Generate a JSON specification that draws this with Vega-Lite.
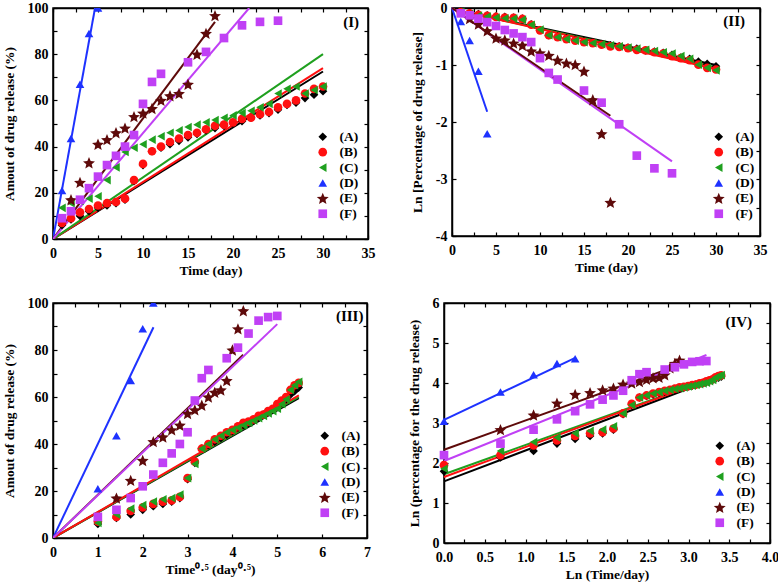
{
"$schema": "https://vega.github.io/schema/vega-lite/v6.json",
"padding": {"left": 1, "top": 0, "right": 0, "bottom": 0},
"background": "white",
"config": {
  "font": "Liberation Serif",
  "locale": {"number": {"decimal": ".", "thousands": ",", "grouping": [3], "currency": ["$", ""], "minus": "-"}},
  "view": {"stroke": "black", "strokeWidth": 1.5},
  "axis": {"labelFont": "Liberation Serif", "labelFontWeight": "bold", "labelFontSize": 14, "labelColor": "black",
    "titleFont": "Liberation Serif", "titleFontWeight": "bold", "titleFontSize": 13.5, "titleColor": "black",
    "grid": false, "domainColor": "black", "domainWidth": 1.5, "tickColor": "black", "tickSize": -4, "tickWidth": 1.2,
    "labelFlush": false, "labelOverlap": false},
  "axisX": {"labelPadding": 11, "titlePadding": 3},
  "axisY": {"labelPadding": 9, "titlePadding": 11},
  "legend": {"orient": "none", "labelFont": "Liberation Serif", "labelFontWeight": "bold", "labelFontSize": 13.5, "labelColor": "black",
    "labelOffset": 10, "rowPadding": 0.4, "symbolSize": 75, "symbolStrokeWidth": 0, "padding": 0}
},
"datasets": {
"pts": [
{"s":"A","t":1,"p1":6,"lr":-0.062,"rt":1,"p":6,"lt":0,"lp":1.792},
{"s":"A","t":2,"p1":8.5,"lr":-0.089,"rt":1.414,"p":8.5,"lt":0.693,"lp":2.140},
{"s":"A","t":3,"p1":10,"lr":-0.105,"rt":1.732,"p":10,"lt":1.099,"lp":2.303},
{"s":"A","t":4,"p1":12,"lr":-0.128,"rt":2,"p":12,"lt":1.386,"lp":2.485},
{"s":"A","t":5,"p1":13.5,"lr":-0.145,"rt":2.236,"p":13.5,"lt":1.609,"lp":2.603},
{"s":"A","t":6,"p1":14.5,"lr":-0.157,"rt":2.449,"p":14.5,"lt":1.792,"lp":2.674},
{"s":"A","t":7,"p1":15.5,"lr":-0.168,"rt":2.646,"p":15.5,"lt":1.946,"lp":2.741},
{"s":"A","t":8,"p1":17,"lr":-0.186,"rt":2.828,"p":17,"lt":2.079,"lp":2.833},
{"s":"A","t":9,"p1":25,"lr":-0.288,"rt":3,"p":25,"lt":2.197,"lp":3.219},
{"s":"A","t":10,"p1":32,"lr":-0.386,"rt":3.162,"p":32,"lt":2.303,"lp":3.466},
{"s":"A","t":11,"p1":38,"lr":-0.478,"rt":3.317,"p":38,"lt":2.398,"lp":3.638},
{"s":"A","t":12,"p1":39.5,"lr":-0.503,"rt":3.464,"p":39.5,"lt":2.485,"lp":3.676},
{"s":"A","t":13,"p1":41,"lr":-0.528,"rt":3.606,"p":41,"lt":2.565,"lp":3.714},
{"s":"A","t":14,"p1":42.5,"lr":-0.553,"rt":3.742,"p":42.5,"lt":2.639,"lp":3.750},
{"s":"A","t":15,"p1":44,"lr":-0.580,"rt":3.873,"p":44,"lt":2.708,"lp":3.784},
{"s":"A","t":16,"p1":45.5,"lr":-0.607,"rt":4,"p":45.5,"lt":2.773,"lp":3.818},
{"s":"A","t":17,"p1":47,"lr":-0.635,"rt":4.123,"p":47,"lt":2.833,"lp":3.850},
{"s":"A","t":18,"p1":48,"lr":-0.654,"rt":4.243,"p":48,"lt":2.890,"lp":3.871},
{"s":"A","t":19,"p1":49,"lr":-0.673,"rt":4.359,"p":49,"lt":2.944,"lp":3.892},
{"s":"A","t":20,"p1":50,"lr":-0.693,"rt":4.472,"p":50,"lt":2.996,"lp":3.912},
{"s":"A","t":21,"p1":51,"lr":-0.713,"rt":4.583,"p":51,"lt":3.045,"lp":3.932},
{"s":"A","t":22,"p1":52.5,"lr":-0.744,"rt":4.690,"p":52.5,"lt":3.091,"lp":3.961},
{"s":"A","t":23,"p1":53.5,"lr":-0.766,"rt":4.796,"p":53.5,"lt":3.135,"lp":3.980},
{"s":"A","t":24,"p1":54.5,"lr":-0.788,"rt":4.899,"p":54.5,"lt":3.178,"lp":3.998},
{"s":"A","t":25,"p1":56,"lr":-0.821,"rt":5,"p":56,"lt":3.219,"lp":4.025},
{"s":"A","t":26,"p1":58,"lr":-0.868,"rt":5.099,"p":58,"lt":3.258,"lp":4.060},
{"s":"A","t":27,"p1":59,"lr":-0.892,"rt":5.196,"p":59,"lt":3.296,"lp":4.078},
{"s":"A","t":28,"p1":61,"lr":-0.942,"rt":5.292,"p":61,"lt":3.332,"lp":4.111},
{"s":"A","t":29,"p1":62.5,"lr":-0.981,"rt":5.385,"p":62.5,"lt":3.367,"lp":4.135},
{"s":"A","t":30,"p1":64,"lr":-1.022,"rt":5.477,"p":64,"lt":3.401,"lp":4.159},
{"s":"B","t":1,"p1":7,"lr":-0.073,"rt":1,"p":7,"lt":0,"lp":1.946},
{"s":"B","t":2,"p1":9,"lr":-0.094,"rt":1.414,"p":9,"lt":0.693,"lp":2.197},
{"s":"B","t":3,"p1":11.5,"lr":-0.122,"rt":1.732,"p":11.5,"lt":1.099,"lp":2.442},
{"s":"B","t":4,"p1":13,"lr":-0.139,"rt":2,"p":13,"lt":1.386,"lp":2.565},
{"s":"B","t":5,"p1":14.5,"lr":-0.157,"rt":2.236,"p":14.5,"lt":1.609,"lp":2.674},
{"s":"B","t":6,"p1":15.5,"lr":-0.168,"rt":2.449,"p":15.5,"lt":1.792,"lp":2.741},
{"s":"B","t":7,"p1":16,"lr":-0.174,"rt":2.646,"p":16,"lt":1.946,"lp":2.773},
{"s":"B","t":8,"p1":17.5,"lr":-0.192,"rt":2.828,"p":17.5,"lt":2.079,"lp":2.862},
{"s":"B","t":9,"p1":25.5,"lr":-0.294,"rt":3,"p":25.5,"lt":2.197,"lp":3.239},
{"s":"B","t":10,"p1":32.5,"lr":-0.392,"rt":3.162,"p":32.5,"lt":2.303,"lp":3.481},
{"s":"B","t":11,"p1":38,"lr":-0.478,"rt":3.317,"p":38,"lt":2.398,"lp":3.638},
{"s":"B","t":12,"p1":40,"lr":-0.511,"rt":3.464,"p":40,"lt":2.485,"lp":3.689},
{"s":"B","t":13,"p1":42,"lr":-0.545,"rt":3.606,"p":42,"lt":2.565,"lp":3.738},
{"s":"B","t":14,"p1":43.5,"lr":-0.572,"rt":3.742,"p":43.5,"lt":2.639,"lp":3.773},
{"s":"B","t":15,"p1":45,"lr":-0.598,"rt":3.873,"p":45,"lt":2.708,"lp":3.807},
{"s":"B","t":16,"p1":46,"lr":-0.616,"rt":4,"p":46,"lt":2.773,"lp":3.829},
{"s":"B","t":17,"p1":47.5,"lr":-0.644,"rt":4.123,"p":47.5,"lt":2.833,"lp":3.861},
{"s":"B","t":18,"p1":49,"lr":-0.673,"rt":4.243,"p":49,"lt":2.890,"lp":3.892},
{"s":"B","t":19,"p1":49.5,"lr":-0.683,"rt":4.359,"p":49.5,"lt":2.944,"lp":3.902},
{"s":"B","t":20,"p1":50.5,"lr":-0.703,"rt":4.472,"p":50.5,"lt":2.996,"lp":3.922},
{"s":"B","t":21,"p1":52,"lr":-0.734,"rt":4.583,"p":52,"lt":3.045,"lp":3.951},
{"s":"B","t":22,"p1":52.5,"lr":-0.744,"rt":4.690,"p":52.5,"lt":3.091,"lp":3.961},
{"s":"B","t":23,"p1":54,"lr":-0.777,"rt":4.796,"p":54,"lt":3.135,"lp":3.989},
{"s":"B","t":24,"p1":55,"lr":-0.799,"rt":4.899,"p":55,"lt":3.178,"lp":4.007},
{"s":"B","t":25,"p1":57,"lr":-0.844,"rt":5,"p":57,"lt":3.219,"lp":4.043},
{"s":"B","t":26,"p1":58.5,"lr":-0.879,"rt":5.099,"p":58.5,"lt":3.258,"lp":4.069},
{"s":"B","t":27,"p1":60,"lr":-0.916,"rt":5.196,"p":60,"lt":3.296,"lp":4.094},
{"s":"B","t":28,"p1":63,"lr":-0.994,"rt":5.292,"p":63,"lt":3.332,"lp":4.143},
{"s":"B","t":29,"p1":65,"lr":-1.050,"rt":5.385,"p":65,"lt":3.367,"lp":4.174},
{"s":"B","t":30,"p1":66,"lr":-1.079,"rt":5.477,"p":66,"lt":3.401,"lp":4.190},
{"s":"C","t":1,"p1":13.5,"lr":-0.066,"rt":1,"p":6.4,"lt":0,"lp":1.856},
{"s":"C","t":2,"p1":15.5,"lr":-0.105,"rt":1.414,"p":10,"lt":0.693,"lp":2.303},
{"s":"C","t":3,"p1":16.5,"lr":-0.134,"rt":1.732,"p":12.5,"lt":1.099,"lp":2.526},
{"s":"C","t":4,"p1":17.5,"lr":-0.151,"rt":2,"p":14,"lt":1.386,"lp":2.639},
{"s":"C","t":5,"p1":18.5,"lr":-0.168,"rt":2.236,"p":15.5,"lt":1.609,"lp":2.741},
{"s":"C","t":6,"p1":25.5,"lr":-0.180,"rt":2.449,"p":16.5,"lt":1.792,"lp":2.803},
{"s":"C","t":7,"p1":31,"lr":-0.186,"rt":2.646,"p":17,"lt":1.946,"lp":2.833},
{"s":"C","t":8,"p1":37.7,"lr":-0.205,"rt":2.828,"p":18.5,"lt":2.079,"lp":2.918},
{"s":"C","t":9,"p1":39.5,"lr":-0.294,"rt":3,"p":25.5,"lt":2.197,"lp":3.239},
{"s":"C","t":10,"p1":41,"lr":-0.379,"rt":3.162,"p":31.5,"lt":2.303,"lp":3.450},
{"s":"C","t":11,"p1":43,"lr":-0.478,"rt":3.317,"p":38,"lt":2.398,"lp":3.638},
{"s":"C","t":12,"p1":44.5,"lr":-0.511,"rt":3.464,"p":40,"lt":2.485,"lp":3.689},
{"s":"C","t":13,"p1":46,"lr":-0.545,"rt":3.606,"p":42,"lt":2.565,"lp":3.738},
{"s":"C","t":14,"p1":47,"lr":-0.572,"rt":3.742,"p":43.5,"lt":2.639,"lp":3.773},
{"s":"C","t":15,"p1":48.5,"lr":-0.598,"rt":3.873,"p":45,"lt":2.708,"lp":3.807},
{"s":"C","t":16,"p1":49.5,"lr":-0.616,"rt":4,"p":46,"lt":2.773,"lp":3.829},
{"s":"C","t":17,"p1":50.5,"lr":-0.635,"rt":4.123,"p":47,"lt":2.833,"lp":3.850},
{"s":"C","t":18,"p1":51.5,"lr":-0.654,"rt":4.243,"p":48,"lt":2.890,"lp":3.871},
{"s":"C","t":19,"p1":52.5,"lr":-0.673,"rt":4.359,"p":49,"lt":2.944,"lp":3.892},
{"s":"C","t":20,"p1":53.5,"lr":-0.693,"rt":4.472,"p":50,"lt":2.996,"lp":3.912},
{"s":"C","t":21,"p1":54.5,"lr":-0.713,"rt":4.583,"p":51,"lt":3.045,"lp":3.932},
{"s":"C","t":22,"p1":55.5,"lr":-0.734,"rt":4.690,"p":52,"lt":3.091,"lp":3.951},
{"s":"C","t":23,"p1":57,"lr":-0.755,"rt":4.796,"p":53,"lt":3.135,"lp":3.970},
{"s":"C","t":24,"p1":58.5,"lr":-0.777,"rt":4.899,"p":54,"lt":3.178,"lp":3.989},
{"s":"C","t":25,"p1":63,"lr":-0.799,"rt":5,"p":55,"lt":3.219,"lp":4.007},
{"s":"C","t":26,"p1":65,"lr":-0.844,"rt":5.099,"p":57,"lt":3.258,"lp":4.043},
{"s":"C","t":27,"p1":66,"lr":-0.892,"rt":5.196,"p":59,"lt":3.296,"lp":4.078},
{"s":"C","t":28,"p1":63,"lr":-0.994,"rt":5.292,"p":63,"lt":3.332,"lp":4.143},
{"s":"C","t":29,"p1":64.5,"lr":-1.050,"rt":5.385,"p":65,"lt":3.367,"lp":4.174},
{"s":"C","t":30,"p1":66,"lr":-1.094,"rt":5.477,"p":66.5,"lt":3.401,"lp":4.197},
{"s":"D","t":1,"p1":21,"lr":-0.236,"rt":1,"p":21,"lt":0,"lp":3.045},
{"s":"D","t":2,"p1":43.5,"lr":-0.571,"rt":1.414,"p":43.5,"lt":0.693,"lp":3.773},
{"s":"D","t":3,"p1":67,"lr":-1.109,"rt":1.732,"p":67,"lt":1.099,"lp":4.205},
{"s":"D","t":4,"p1":89,"lr":-2.207,"rt":2,"p":89,"lt":1.386,"lp":4.489},
{"s":"D","t":5,"p1":100,"lr":null,"rt":2.236,"p":100,"lt":1.609,"lp":4.605},
{"s":"E","t":2,"p1":17,"lr":-0.186,"rt":1.414,"p":17,"lt":0.693,"lp":2.833},
{"s":"E","t":3,"p1":24.5,"lr":-0.281,"rt":1.732,"p":24.5,"lt":1.099,"lp":3.199},
{"s":"E","t":4,"p1":33,"lr":-0.400,"rt":2,"p":33,"lt":1.386,"lp":3.497},
{"s":"E","t":5,"p1":41,"lr":-0.528,"rt":2.236,"p":41,"lt":1.609,"lp":3.714},
{"s":"E","t":6,"p1":43,"lr":-0.562,"rt":2.449,"p":43,"lt":1.792,"lp":3.761},
{"s":"E","t":7,"p1":46,"lr":-0.616,"rt":2.646,"p":46,"lt":1.946,"lp":3.829},
{"s":"E","t":8,"p1":48,"lr":-0.654,"rt":2.828,"p":48,"lt":2.079,"lp":3.871},
{"s":"E","t":9,"p1":53,"lr":-0.755,"rt":3,"p":53,"lt":2.197,"lp":3.970},
{"s":"E","t":10,"p1":54.5,"lr":-0.788,"rt":3.162,"p":54.5,"lt":2.303,"lp":3.998},
{"s":"E","t":11,"p1":56.5,"lr":-0.832,"rt":3.317,"p":56.5,"lt":2.398,"lp":4.034},
{"s":"E","t":12,"p1":60,"lr":-0.916,"rt":3.464,"p":60,"lt":2.485,"lp":4.094},
{"s":"E","t":13,"p1":62,"lr":-0.968,"rt":3.606,"p":62,"lt":2.565,"lp":4.127},
{"s":"E","t":14,"p1":63,"lr":-0.994,"rt":3.742,"p":63,"lt":2.639,"lp":4.143},
{"s":"E","t":15,"p1":67,"lr":-1.109,"rt":3.873,"p":67,"lt":2.708,"lp":4.205},
{"s":"E","t":16,"p1":80,"lr":-1.609,"rt":4,"p":80,"lt":2.773,"lp":4.382},
{"s":"E","t":17,"p1":89,"lr":-2.207,"rt":4.123,"p":89,"lt":2.833,"lp":4.489},
{"s":"E","t":18,"p1":96.7,"lr":-3.411,"rt":4.243,"p":96.7,"lt":2.890,"lp":4.571},
{"s":"F","t":1,"p1":9,"lr":-0.094,"rt":1,"p":9,"lt":0,"lp":2.197},
{"s":"F","t":2,"p1":12,"lr":-0.128,"rt":1.414,"p":12,"lt":0.693,"lp":2.485},
{"s":"F","t":3,"p1":17,"lr":-0.186,"rt":1.732,"p":17,"lt":1.099,"lp":2.833},
{"s":"F","t":4,"p1":22,"lr":-0.248,"rt":2,"p":22,"lt":1.386,"lp":3.091},
{"s":"F","t":5,"p1":27,"lr":-0.315,"rt":2.236,"p":27,"lt":1.609,"lp":3.296},
{"s":"F","t":6,"p1":32,"lr":-0.386,"rt":2.449,"p":32,"lt":1.792,"lp":3.466},
{"s":"F","t":7,"p1":36,"lr":-0.446,"rt":2.646,"p":36,"lt":1.946,"lp":3.584},
{"s":"F","t":8,"p1":40,"lr":-0.511,"rt":2.828,"p":40,"lt":2.079,"lp":3.689},
{"s":"F","t":9,"p1":45,"lr":-0.598,"rt":3,"p":45,"lt":2.197,"lp":3.807},
{"s":"F","t":10,"p1":58.5,"lr":-0.879,"rt":3.162,"p":58.5,"lt":2.303,"lp":4.069},
{"s":"F","t":11,"p1":68,"lr":-1.139,"rt":3.317,"p":68,"lt":2.398,"lp":4.220},
{"s":"F","t":12,"p1":71.5,"lr":-1.255,"rt":3.464,"p":71.5,"lt":2.485,"lp":4.270},
{"s":"F","t":15,"p1":76.5,"lr":-1.448,"rt":3.873,"p":76.5,"lt":2.708,"lp":4.337},
{"s":"F","t":17,"p1":81,"lr":-1.661,"rt":4.123,"p":81,"lt":2.833,"lp":4.394},
{"s":"F","t":19,"p1":87,"lr":-2.040,"rt":4.359,"p":87,"lt":2.944,"lp":4.466},
{"s":"F","t":21,"p1":92.5,"lr":-2.590,"rt":4.583,"p":92.5,"lt":3.045,"lp":4.527},
{"s":"F","t":23,"p1":94,"lr":-2.813,"rt":4.796,"p":94,"lt":3.135,"lp":4.543},
{"s":"F","t":25,"p1":94.5,"lr":-2.900,"rt":5,"p":94.5,"lt":3.219,"lp":4.549}
],
"fit1": [
{"s":"A","x":0,"y":0},{"s":"A","x":30,"y":72.5},
{"s":"B","x":0,"y":0},{"s":"B","x":30,"y":74},
{"s":"C","x":0,"y":0},{"s":"C","x":30,"y":80},
{"s":"D","x":0,"y":0},{"s":"D","x":4.67,"y":100},
{"s":"E","x":0,"y":0},{"s":"E","x":18,"y":94},
{"s":"F","x":0,"y":0},{"s":"F","x":21.8,"y":100}
],
"fit2": [
{"s":"A","x":0,"y":-0.02},{"s":"A","x":30,"y":-1.0},
{"s":"C","x":0,"y":-0.02},{"s":"C","x":30,"y":-1.04},
{"s":"B","x":0,"y":-0.02},{"s":"B","x":30,"y":-1.07},
{"s":"D","x":0,"y":0},{"s":"D","x":4,"y":-1.82},
{"s":"F","x":0,"y":0},{"s":"F","x":25,"y":-2.69},
{"s":"E","x":0,"y":0},{"s":"E","x":18,"y":-1.89}
],
"fit3": [
{"s":"A","x":0,"y":0},{"s":"A","x":5.48,"y":59.5},
{"s":"C","x":0,"y":0},{"s":"C","x":5.48,"y":60},
{"s":"B","x":0,"y":0},{"s":"B","x":5.48,"y":60.7},
{"s":"D","x":0,"y":0},{"s":"D","x":2.24,"y":89.7},
{"s":"E","x":0,"y":0},{"s":"E","x":4.24,"y":78},
{"s":"F","x":0,"y":0},{"s":"F","x":5,"y":91}
],
"fit4": [
{"s":"A","x":0,"y":1.54},{"s":"A","x":3.4,"y":4.17},
{"s":"C","x":0,"y":1.72},{"s":"C","x":3.4,"y":4.2},
{"s":"B","x":0,"y":1.65},{"s":"B","x":3.4,"y":4.2},
{"s":"D","x":0,"y":3.08},{"s":"D","x":1.61,"y":4.63},
{"s":"E","x":0,"y":2.33},{"s":"E","x":2.89,"y":4.45},
{"s":"F","x":0,"y":2.05},{"s":"F","x":3.22,"y":4.7}
]
},
"spacing": 17,
"resolve": {"scale": {"color": "independent", "shape": "independent", "stroke": "independent"}, "legend": {"color": "independent", "shape": "independent"}},
"vconcat": [
{
"spacing": 33,
"resolve": {"scale": {"color": "independent", "shape": "independent", "stroke": "independent"}, "legend": {"color": "independent", "shape": "independent"}},
"hconcat": [
{
"width": 315, "height": 231,
"resolve": {"axis": {"x": "independent", "y": "independent"}, "scale": {"color": "independent", "shape": "independent", "stroke": "independent"}, "legend": {"color": "independent", "shape": "independent", "stroke": "independent"}},
"layer": [
{
"resolve": {"scale": {"color": "independent", "shape": "independent", "stroke": "independent"}, "legend": {"color": "independent", "shape": "independent", "stroke": "independent"}},
"layer": [
{"data": {"name": "fit1"}, "mark": {"type": "line", "strokeWidth": 2, "clip": true},
 "encoding": {
  "x": {"field": "x", "type": "quantitative", "scale": {"domain": [0, 35], "nice": false}, "axis": {"title": "Time (day)", "values": [0,2.5,5,7.5,10,12.5,15,17.5,20,22.5,25,27.5,30,32.5,35], "labelExpr": "datum.value % 5 == 0 ? datum.label : ''"}},
  "y": {"field": "y", "type": "quantitative", "scale": {"domain": [0, 100], "nice": false}, "axis": {"title": "Amout of drug release (%)", "format": "d", "values": [0,10,20,30,40,50,60,70,80,90,100], "labelExpr": "datum.value % 20 == 0 ? datum.label : ''"}},
  "stroke": {"field": "s", "type": "nominal", "scale": {"domain": ["A","B","C","D","E","F"], "range": ["#000000","#FF1010","#1FA01F","#1E32FF","#5E0A0A","#C040F5"]}, "legend": null}
 }},
{"data": {"name": "pts"}, "mark": {"type": "point", "filled": true, "opacity": 1, "size": 75, "clip": true},
 "encoding": {
  "x": {"field": "t", "type": "quantitative", "axis": {"title": "Time (day)", "values": [0,2.5,5,7.5,10,12.5,15,17.5,20,22.5,25,27.5,30,32.5,35], "labelExpr": "datum.value % 5 == 0 ? datum.label : ''"}},
  "y": {"field": "p1", "type": "quantitative", "axis": {"title": "Amout of drug release (%)", "format": "d", "values": [0,10,20,30,40,50,60,70,80,90,100], "labelExpr": "datum.value % 20 == 0 ? datum.label : ''"}},
  "color": {"field": "s", "type": "nominal", "scale": {"domain": ["A","B","C","D","E","F"], "range": ["#000000","#FF1010","#1FA01F","#1E32FF","#5E0A0A","#C040F5"]}, "legend": {"title": null, "legendX": 263, "legendY": 122, "labelExpr": "'(' + datum.label + ')'"}},
  "shape": {"field": "s", "type": "nominal", "scale": {"domain": ["A","B","C","D","E","F"], "range": ["diamond","circle","triangle-left","triangle-up","M0,-1.31L0.384,-0.388L1.379,-0.308L0.621,0.342L0.853,1.313L0,0.793L-0.853,1.313L-0.621,0.342L-1.379,-0.308L-0.384,-0.388Z","square"]}, "legend": {"title": null, "legendX": 263, "legendY": 122, "labelExpr": "'(' + datum.label + ')'"}}
 }}
]
},
{"data": {"values": [{}]}, "mark": {"type": "text", "align": "right", "baseline": "middle", "font": "Liberation Serif", "fontWeight": "bold", "fontSize": 15, "color": "black"},
 "encoding": {
  "x": {"datum": 34, "type": "quantitative", "axis": {"orient": "top", "labels": false, "title": null, "values": [0,2.5,5,7.5,10,12.5,15,17.5,20,22.5,25,27.5,30,32.5,35]}},
  "y": {"datum": 94, "type": "quantitative", "axis": {"orient": "right", "labels": false, "title": null, "values": [0,10,20,30,40,50,60,70,80,90,100]}},
  "text": {"value": "(I)"}}}
]
},
{
"width": 308, "height": 228,
"resolve": {"axis": {"x": "independent", "y": "independent"}, "scale": {"color": "independent", "shape": "independent", "stroke": "independent"}, "legend": {"color": "independent", "shape": "independent", "stroke": "independent"}},
"layer": [
{
"resolve": {"scale": {"color": "independent", "shape": "independent", "stroke": "independent"}, "legend": {"color": "independent", "shape": "independent", "stroke": "independent"}},
"layer": [
{"data": {"name": "fit2"}, "mark": {"type": "line", "strokeWidth": 2},
 "encoding": {
  "x": {"field": "x", "type": "quantitative", "scale": {"domain": [0, 35], "nice": false}, "axis": {"title": "Time (day)", "values": [0,2.5,5,7.5,10,12.5,15,17.5,20,22.5,25,27.5,30,32.5,35], "labelExpr": "datum.value % 5 == 0 ? datum.label : ''"}},
  "y": {"field": "y", "type": "quantitative", "scale": {"domain": [-4, 0], "nice": false}, "axis": {"title": "Ln [Percentage of drug release]", "format": "d", "values": [-4,-3.5,-3,-2.5,-2,-1.5,-1,-0.5,0], "labelExpr": "datum.value % 1 == 0 ? datum.label : ''"}},
  "stroke": {"field": "s", "type": "nominal", "scale": {"domain": ["A","B","C","D","E","F"], "range": ["#000000","#FF1010","#1FA01F","#1E32FF","#5E0A0A","#C040F5"]}, "legend": null}
 }},
{"data": {"name": "pts"}, "mark": {"type": "point", "filled": true, "opacity": 1, "size": 75},
 "encoding": {
  "x": {"field": "t", "type": "quantitative", "axis": {"title": "Time (day)", "values": [0,2.5,5,7.5,10,12.5,15,17.5,20,22.5,25,27.5,30,32.5,35], "labelExpr": "datum.value % 5 == 0 ? datum.label : ''"}},
  "y": {"field": "lr", "type": "quantitative", "axis": {"title": "Ln [Percentage of drug release]", "format": "d", "values": [-4,-3.5,-3,-2.5,-2,-1.5,-1,-0.5,0], "labelExpr": "datum.value % 1 == 0 ? datum.label : ''"}},
  "color": {"field": "s", "type": "nominal", "scale": {"domain": ["A","B","C","D","E","F"], "range": ["#000000","#FF1010","#1FA01F","#1E32FF","#5E0A0A","#C040F5"]}, "legend": {"title": null, "legendX": 260, "legendY": 122, "labelExpr": "'(' + datum.label + ')'"}},
  "shape": {"field": "s", "type": "nominal", "scale": {"domain": ["A","B","C","D","E","F"], "range": ["diamond","circle","triangle-left","triangle-up","M0,-1.31L0.384,-0.388L1.379,-0.308L0.621,0.342L0.853,1.313L0,0.793L-0.853,1.313L-0.621,0.342L-1.379,-0.308L-0.384,-0.388Z","square"]}, "legend": {"title": null, "legendX": 260, "legendY": 122, "labelExpr": "'(' + datum.label + ')'"}}
 }}
]
},
{"data": {"values": [{}]}, "mark": {"type": "text", "align": "right", "baseline": "middle", "font": "Liberation Serif", "fontWeight": "bold", "fontSize": 15, "color": "black"},
 "encoding": {
  "x": {"datum": 33.3, "type": "quantitative", "axis": {"orient": "top", "labels": false, "title": null, "values": [0,2.5,5,7.5,10,12.5,15,17.5,20,22.5,25,27.5,30,32.5,35]}},
  "y": {"datum": -0.22, "type": "quantitative", "axis": {"orient": "right", "labels": false, "title": null, "values": [-4,-3.5,-3,-2.5,-2,-1.5,-1,-0.5,0]}},
  "text": {"value": "(II)"}}}
]
}
]
},
{
"spacing": 34,
"resolve": {"scale": {"color": "independent", "shape": "independent", "stroke": "independent"}, "legend": {"color": "independent", "shape": "independent"}},
"hconcat": [
{
"width": 314, "height": 235,
"resolve": {"axis": {"x": "independent", "y": "independent"}, "scale": {"color": "independent", "shape": "independent", "stroke": "independent"}, "legend": {"color": "independent", "shape": "independent", "stroke": "independent"}},
"layer": [
{
"resolve": {"scale": {"color": "independent", "shape": "independent", "stroke": "independent"}, "legend": {"color": "independent", "shape": "independent", "stroke": "independent"}},
"layer": [
{"data": {"name": "fit3"}, "mark": {"type": "line", "strokeWidth": 2, "clip": true},
 "encoding": {
  "x": {"field": "x", "type": "quantitative", "scale": {"domain": [0, 7], "nice": false}, "axis": {"title": "Time⁰·⁵ (day⁰·⁵)", "format": "d", "values": [0,0.5,1,1.5,2,2.5,3,3.5,4,4.5,5,5.5,6,6.5,7], "labelExpr": "datum.value % 1 == 0 ? datum.label : ''"}},
  "y": {"field": "y", "type": "quantitative", "scale": {"domain": [0, 100], "nice": false}, "axis": {"title": "Amout of drug release (%)", "format": "d", "values": [0,10,20,30,40,50,60,70,80,90,100], "labelExpr": "datum.value % 20 == 0 ? datum.label : ''"}},
  "stroke": {"field": "s", "type": "nominal", "scale": {"domain": ["A","B","C","D","E","F"], "range": ["#000000","#FF1010","#1FA01F","#1E32FF","#5E0A0A","#C040F5"]}, "legend": null}
 }},
{"data": {"name": "pts"}, "mark": {"type": "point", "filled": true, "opacity": 1, "size": 75, "clip": true},
 "encoding": {
  "x": {"field": "rt", "type": "quantitative", "axis": {"title": "Time⁰·⁵ (day⁰·⁵)", "format": "d", "values": [0,0.5,1,1.5,2,2.5,3,3.5,4,4.5,5,5.5,6,6.5,7], "labelExpr": "datum.value % 1 == 0 ? datum.label : ''"}},
  "y": {"field": "p", "type": "quantitative", "axis": {"title": "Amout of drug release (%)", "format": "d", "values": [0,10,20,30,40,50,60,70,80,90,100], "labelExpr": "datum.value % 20 == 0 ? datum.label : ''"}},
  "color": {"field": "s", "type": "nominal", "scale": {"domain": ["A","B","C","D","E","F"], "range": ["#000000","#FF1010","#1FA01F","#1E32FF","#5E0A0A","#C040F5"]}, "legend": {"title": null, "legendX": 265, "legendY": 126, "labelExpr": "'(' + datum.label + ')'"}},
  "shape": {"field": "s", "type": "nominal", "scale": {"domain": ["A","B","C","D","E","F"], "range": ["diamond","circle","triangle-left","triangle-up","M0,-1.31L0.384,-0.388L1.379,-0.308L0.621,0.342L0.853,1.313L0,0.793L-0.853,1.313L-0.621,0.342L-1.379,-0.308L-0.384,-0.388Z","square"]}, "legend": {"title": null, "legendX": 265, "legendY": 126, "labelExpr": "'(' + datum.label + ')'"}}
 }}
]
},
{"data": {"values": [{}]}, "mark": {"type": "text", "align": "right", "baseline": "middle", "font": "Liberation Serif", "fontWeight": "bold", "fontSize": 15, "color": "black"},
 "encoding": {
  "x": {"datum": 6.92, "type": "quantitative", "axis": {"orient": "top", "labels": false, "title": null, "values": [0,0.5,1,1.5,2,2.5,3,3.5,4,4.5,5,5.5,6,6.5,7]}},
  "y": {"datum": 94.3, "type": "quantitative", "axis": {"orient": "right", "labels": false, "title": null, "values": [0,10,20,30,40,50,60,70,80,90,100]}},
  "text": {"value": "(III)"}}}
]
},
{
"width": 326, "height": 240,
"resolve": {"axis": {"x": "independent", "y": "independent"}, "scale": {"color": "independent", "shape": "independent", "stroke": "independent"}, "legend": {"color": "independent", "shape": "independent", "stroke": "independent"}},
"layer": [
{
"resolve": {"scale": {"color": "independent", "shape": "independent", "stroke": "independent"}, "legend": {"color": "independent", "shape": "independent", "stroke": "independent"}},
"layer": [
{"data": {"name": "fit4"}, "mark": {"type": "line", "strokeWidth": 2},
 "encoding": {
  "x": {"field": "x", "type": "quantitative", "scale": {"domain": [0, 4], "nice": false}, "axis": {"title": "Ln (Time/day)", "format": ".1f", "values": [0,0.25,0.5,0.75,1,1.25,1.5,1.75,2,2.25,2.5,2.75,3,3.25,3.5,3.75,4], "labelExpr": "datum.value % 0.5 == 0 ? datum.label : ''"}},
  "y": {"field": "y", "type": "quantitative", "scale": {"domain": [0, 6], "nice": false}, "axis": {"title": "Ln (percentage for the drug release)", "format": "d", "values": [0,0.5,1,1.5,2,2.5,3,3.5,4,4.5,5,5.5,6], "labelExpr": "datum.value % 1 == 0 ? datum.label : ''"}},
  "stroke": {"field": "s", "type": "nominal", "scale": {"domain": ["A","B","C","D","E","F"], "range": ["#000000","#FF1010","#1FA01F","#1E32FF","#5E0A0A","#C040F5"]}, "legend": null}
 }},
{"data": {"name": "pts"}, "mark": {"type": "point", "filled": true, "opacity": 1, "size": 75},
 "encoding": {
  "x": {"field": "lt", "type": "quantitative", "axis": {"title": "Ln (Time/day)", "format": ".1f", "values": [0,0.25,0.5,0.75,1,1.25,1.5,1.75,2,2.25,2.5,2.75,3,3.25,3.5,3.75,4], "labelExpr": "datum.value % 0.5 == 0 ? datum.label : ''"}},
  "y": {"field": "lp", "type": "quantitative", "axis": {"title": "Ln (percentage for the drug release)", "format": "d", "values": [0,0.5,1,1.5,2,2.5,3,3.5,4,4.5,5,5.5,6], "labelExpr": "datum.value % 1 == 0 ? datum.label : ''"}},
  "color": {"field": "s", "type": "nominal", "scale": {"domain": ["A","B","C","D","E","F"], "range": ["#000000","#FF1010","#1FA01F","#1E32FF","#5E0A0A","#C040F5"]}, "legend": {"title": null, "legendX": 269, "legendY": 136, "labelExpr": "'(' + datum.label + ')'"}},
  "shape": {"field": "s", "type": "nominal", "scale": {"domain": ["A","B","C","D","E","F"], "range": ["diamond","circle","triangle-left","triangle-up","M0,-1.31L0.384,-0.388L1.379,-0.308L0.621,0.342L0.853,1.313L0,0.793L-0.853,1.313L-0.621,0.342L-1.379,-0.308L-0.384,-0.388Z","square"]}, "legend": {"title": null, "legendX": 269, "legendY": 136, "labelExpr": "'(' + datum.label + ')'"}}
 }}
]
},
{"data": {"values": [{}]}, "mark": {"type": "text", "align": "right", "baseline": "middle", "font": "Liberation Serif", "fontWeight": "bold", "fontSize": 15, "color": "black"},
 "encoding": {
  "x": {"datum": 3.78, "type": "quantitative", "axis": {"orient": "top", "labels": false, "title": null, "values": [0,0.25,0.5,0.75,1,1.25,1.5,1.75,2,2.25,2.5,2.75,3,3.25,3.5,3.75,4]}},
  "y": {"datum": 5.52, "type": "quantitative", "axis": {"orient": "right", "labels": false, "title": null, "values": [0,0.5,1,1.5,2,2.5,3,3.5,4,4.5,5,5.5,6]}},
  "text": {"value": "(IV)"}}}
]
}
]
}
]
}
